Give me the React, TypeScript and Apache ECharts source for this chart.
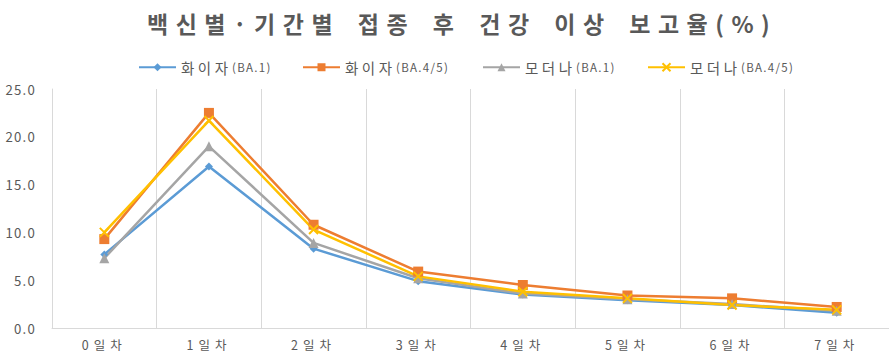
import React, { useEffect, useRef } from "react";
import * as echarts from "echarts";

const categories = ["0일차", "1일차", "2일차", "3일차", "4일차", "5일차", "6일차", "7일차"];
const pfizerBA1 = [7.7, 16.9, 8.3, 4.9, 3.5, 2.9, 2.4, 1.6];
const pfizerBA45 = [9.3, 22.5, 10.8, 5.9, 4.5, 3.4, 3.1, 2.2];
const modernaBA1 = [7.3, 19.0, 8.9, 5.2, 3.6, 3.0, 2.5, 1.8];
const modernaBA45 = [10.0, 21.7, 10.3, 5.4, 3.8, 3.1, 2.4, 1.9];
const seriesNames = ["화이자(BA.1)", "화이자(BA.4/5)", "모더나(BA.1)", "모더나(BA.4/5)"];
const seriesColors = ["#5B9BD5", "#ED7D31", "#A5A5A5", "#FFC000"];
const titleText = "백신별·기간별 접종 후 건강 이상 보고율(%)";

const FONT = "'Noto Sans CJK KR', 'Noto Sans', sans-serif";
const CROSS = "path://M0,0L10,10M10,0L0,10";

const css = `
html, body { overflow: hidden; }
.vchart text[style*="23px"] { letter-spacing: 7.5px; word-spacing: 5px; }
.vchart text[style*="14.5px"] { letter-spacing: 3.5px; }
.vchart text[style*="11.5px"] { letter-spacing: 1.3px; }
.vchart text[style*="12.5px"] { letter-spacing: 5px; }
.vchart text[style*="13.2px"] { letter-spacing: 1.2px; }
`;

export default function App() {
  const ref = useRef<HTMLDivElement>(null);
  useEffect(() => {
    if (!ref.current) return;
    const chart = echarts.init(ref.current, undefined, { renderer: "svg" });
    const mk = (i: number, data: number[], symbol: string, size: number) => ({
      name: seriesNames[i],
      type: "line",
      data,
      color: seriesColors[i],
      symbol,
      symbolSize: size,
      lineStyle: { width: 2.5, color: seriesColors[i] },
      itemStyle: {
        color: seriesColors[i],
        borderColor: seriesColors[i],
        borderWidth: symbol === CROSS ? 2 : 0,
      },
    });
    const legendLefts = [133, 297, 477, 642];
    const legends = seriesNames.map((n, i) => ({
      data: [n],
      top: 55,
      left: legendLefts[i],
      itemWidth: 37,
      itemHeight: 10,
      formatter: (name: string) => {
        const idx = name.indexOf("(");
        return `{k|${name.slice(0, idx)}}{e|${name.slice(idx)}}`;
      },
      textStyle: {
        color: "#595959",
        fontFamily: FONT,
        rich: {
          k: { fontSize: 14.5, color: "#595959", fontFamily: FONT, width: 51 },
          e: { fontSize: 11.5, color: "#595959", fontFamily: FONT },
        },
      },
    }));
    chart.setOption({
      animation: false,
      backgroundColor: "#ffffff",
      textStyle: { fontFamily: FONT },
      title: {
        text: titleText,
        left: 142,
        top: 6,
        textStyle: { fontSize: 23, fontWeight: "bold", color: "#595959", fontFamily: FONT },
      },
      legend: legends,
      grid: { left: 52, top: 89, height: 239, width: 854 },
      xAxis: {
        type: "category",
        data: categories,
        boundaryGap: true,
        axisLine: { show: true, lineStyle: { color: "#d9d9d9", width: 1 } },
        axisTick: { show: false },
        splitLine: { show: true, lineStyle: { color: "#d9d9d9", width: 1 } },
        axisLabel: { color: "#595959", fontSize: 12.5, margin: 10, fontFamily: FONT },
      },
      yAxis: {
        type: "value",
        min: 0,
        max: 25,
        interval: 5,
        axisLine: { show: true, lineStyle: { color: "#d9d9d9", width: 1 } },
        axisTick: { show: false },
        splitLine: { show: false },
        axisLabel: {
          color: "#595959",
          fontSize: 13.2,
          margin: 16,
          fontFamily: FONT,
          formatter: (v: number) => v.toFixed(1),
        },
      },
      series: [
        mk(0, pfizerBA1, "diamond", 8),
        mk(1, pfizerBA45, "rect", 10),
        mk(2, modernaBA1, "triangle", 10),
        mk(3, modernaBA45, CROSS, 9),
      ],
    });
    return () => chart.dispose();
  }, []);
  return (
    <>
      <style>{css}</style>
      <div
        className="vchart"
        ref={ref}
        style={{ position: "fixed", left: 0, top: 0, width: 889, height: 357 }}
      />
    </>
  );
}
